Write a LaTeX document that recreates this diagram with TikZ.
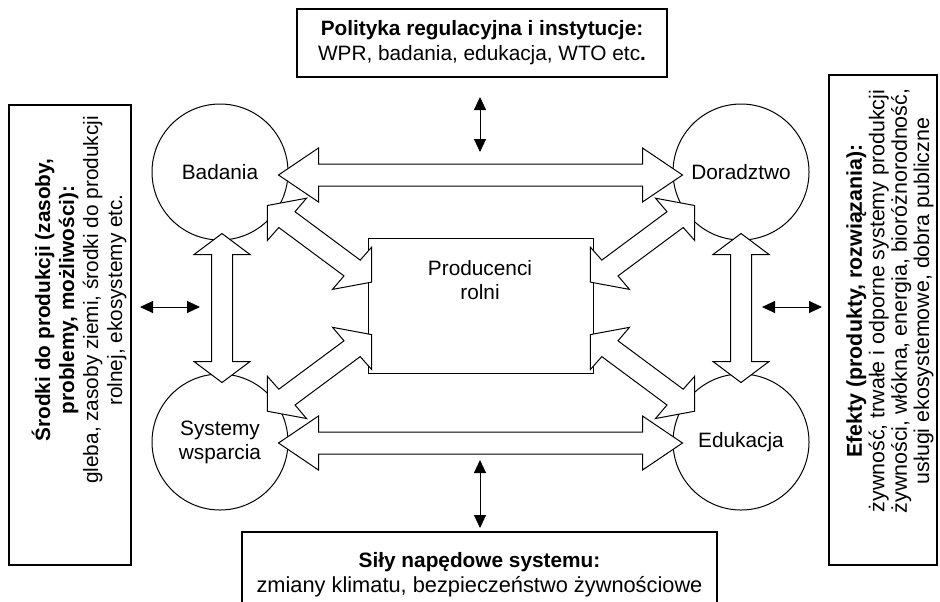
\documentclass[tikz,border=0pt]{standalone}
\usepackage{fontspec}
\setmainfont{Liberation Sans}
\usetikzlibrary{calc,arrows.meta}

\tikzset{
  txt/.style={font=\fontsize{10.4}{12}\selectfont, align=center, inner sep=0pt},
  infobox/.style={draw, line width=0.6pt, inner sep=0pt},
  ring/.style={circle, draw, line width=0.5pt, minimum size=68pt, inner sep=0pt, txt},
  hollow/.style={draw, fill=white, line width=0.5pt, line join=miter},
  thinarrow/.style={<->, line width=0.5pt}
}

% double block arrow: tips #1 and #2, head length #3, half head #4, half shaft #5
\newcommand{\blockarrow}[5]{%
  \coordinate (ha) at ($(#1)!#3!(#2)$);
  \coordinate (hb) at ($(#2)!#3!(#1)$);
  \draw[hollow] (#1) -- ($(ha)!#4!90:(#2)$) -- ($(ha)!#5!90:(#2)$)
    -- ($(hb)!#5!-90:(#1)$) -- ($(hb)!#4!-90:(#1)$) -- (#2)
    -- ($(hb)!#4!90:(#1)$) -- ($(hb)!#5!90:(#1)$)
    -- ($(ha)!#5!-90:(#2)$) -- ($(ha)!#4!-90:(#2)$) -- cycle;
}

\begin{document}
\begin{tikzpicture}[x=0.5pt, y=-0.5pt, >={Triangle[length=6.5pt,width=6pt]}]
    \useasboundingbox (0,0) rectangle (940,601);
    \clip (0,0) rectangle (940,601);

    % outer boxes
    \node[infobox, txt, minimum width=185pt, minimum height=34pt] (pol) at (482,43)
        {\textbf{Polityka regulacyjna i instytucje:}\\[0.5pt]WPR, badania, edukacja, WTO etc\textbf{.}};
    \node[infobox, txt, minimum width=237.5pt, minimum height=42.5pt] (sily) at (479.5,574.5)
        {\textbf{Siły napędowe systemu:}\\[0.5pt]{\fontsize{10.9}{12}\selectfont zmiany klimatu, bezpieczeństwo żywnościowe}};

    \node[infobox, minimum width=61pt, minimum height=230pt] (srodbox) at (70,335) {};
    \node[txt, rotate=90] (srod) at (79,300)
        {\textbf{Środki do produkcji (zasoby,}\\
         \textbf{problemy, możliwości):}\\
         gleba, zasoby ziemi, środki do produkcji\\
         rolnej, ekosystemy etc.};

    \node[infobox, minimum width=54pt, minimum height=245pt] (efekbox) at (883,320) {};
    \node[txt, rotate=90, font=\fontsize{10.7}{11.2}\selectfont] (efek) at (890,301)
        {\textbf{Efekty (produkty, rozwiązania):}\\
         żywność, trwałe i odporne systemy produkcji\\
         żywności, włókna, energia, bioróżnorodność,\\
         usługi ekosystemowe, dobra publiczne};

    % centre
    \node[infobox, line width=0.5pt, minimum width=112.5pt, minimum height=67.5pt] (prod) at (480.5,305.5) {};
    \node[txt] (prodtxt) at (480,280) {Producenci\\rolni};

    \node[ring] (bad) at (220,172) {Badania};
    \node[ring] (dor) at (741,172) {Doradztwo};
    \node[ring] (sys) at (220,442) {Systemy\\wsparcia};
    \node[ring] (edu) at (741,442) {Edukacja};

    % block arrows between the circles
    \coordinate (h1) at ($(bad.east)+(-10,3)$);
    \coordinate (h2) at ($(dor.west)+(10,3)$);
    \coordinate (h3) at ($(sys.east)+(-10,1)$);
    \coordinate (h4) at ($(edu.west)+(10,1)$);
    \coordinate (v1) at ($(bad.south)+(2,-7)$);
    \coordinate (v2) at ($(sys.north)+(2,9)$);
    \coordinate (v3) at ($(dor.south)+(0,-7)$);
    \coordinate (v4) at ($(edu.north)+(0,9)$);

    \blockarrow{h1}{h2}{20pt}{13.5pt}{5.5pt}
    \blockarrow{h3}{h4}{20pt}{13.5pt}{5.5pt}
    \blockarrow{v1}{v2}{10.5pt}{14pt}{5.25pt}
    \blockarrow{v3}{v4}{10.5pt}{14pt}{5.25pt}

    % skewed arrows to the producers
    \foreach \cx/\cy/\sx/\sy in {319.5/243.8/1/1, 642.5/243.8/-1/1,
                                 319.5/372.9/1/-1, 642.5/372.9/-1/-1} {
        \draw[hollow, shift={(\cx,\cy)}, xscale=\sx, yscale=\sy]
            (-52.2,-38.3) -- (-13,-45.6) -- (-24.5,-32.1) -- (40.7,16.3)
            -- (52.2,3.3) -- (52.2,38.3) -- (13,45.6) -- (24.5,32.1)
            -- (-40.7,-16.3) -- (-52.2,-3.3) -- cycle;
    }

    % small arrows to the outer boxes
    \coordinate (t1) at (480,97);
    \coordinate (t2) at (480,152);
    \coordinate (b1) at (480,460);
    \coordinate (b2) at (480,528);
    \coordinate (l1) at (140,307);
    \coordinate (l2) at (200,307);
    \coordinate (r1) at (762,307);
    \coordinate (r2) at (822,307);
    \draw[thinarrow] (t1) -- (t2);
    \draw[thinarrow] (b1) -- (b2);
    \draw[thinarrow] (l1) -- (l2);
    \draw[thinarrow] (r1) -- (r2);
\end{tikzpicture}
\end{document}
